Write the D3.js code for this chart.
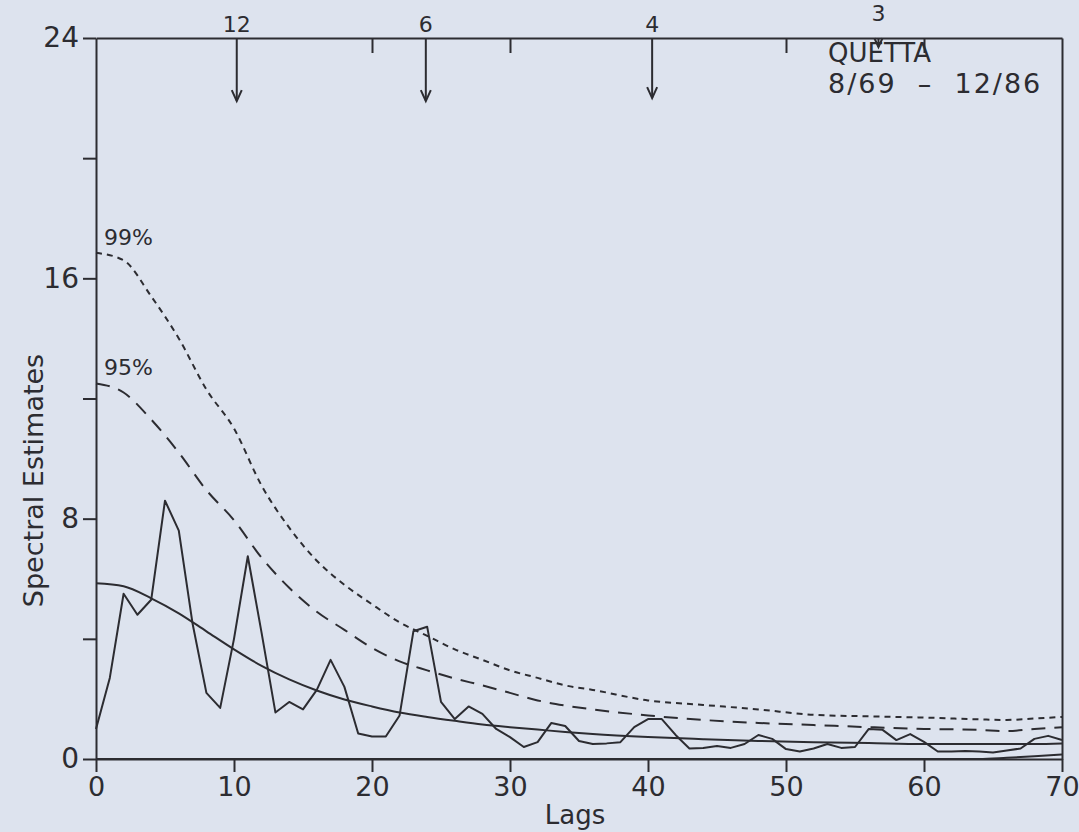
<!DOCTYPE html>
<html>
<head>
<meta charset="utf-8">
<script src="https://cdn.jsdelivr.net/npm/d3@7"></script>
<style>
body { margin: 0; background: #dde3ee; }
svg { display: block; }
text { font-family: "DejaVu Sans", sans-serif; fill: #2c2c31; }
</style>
</head>
<body>
<script>
// spectral estimates, one per lag 0..70
let lags = d3.range(0, 71)
let spectrum = [1.0, 2.7, 5.5, 4.8, 5.3, 8.6, 7.6, 4.5, 2.2, 1.7,
    4.0, 6.75, 4.2, 1.55, 1.9, 1.65, 2.3, 3.3, 2.4, 0.85,
    0.75, 0.75, 1.45, 4.25, 4.4, 1.9, 1.33, 1.75, 1.5, 1.0,
    0.73, 0.4, 0.56, 1.2, 1.1, 0.6, 0.5, 0.52, 0.56, 1.06,
    1.33, 1.33, 0.8, 0.35, 0.37, 0.43, 0.37, 0.5, 0.8, 0.67,
    0.33, 0.25, 0.35, 0.5, 0.37, 0.4, 1.0, 0.97, 0.63, 0.83,
    0.57, 0.25, 0.25, 0.27, 0.25, 0.22, 0.28, 0.35, 0.67, 0.77,
    0.63]

// red noise continuum and its confidence limits
let curveLags = [0, 2, 4, 6, 8, 10, 12, 14, 16, 18, 20, 22, 24, 26, 28, 30, 32, 34, 36, 40, 44, 48, 52, 56, 60, 64, 66, 68, 70]
let rednoise = [5.85, 5.75, 5.35, 4.85, 4.25, 3.65, 3.1, 2.65, 2.28, 1.98, 1.75, 1.55, 1.4, 1.27, 1.15, 1.06, 0.98, 0.9, 0.83, 0.73, 0.66, 0.6, 0.56, 0.53, 0.5, 0.5, 0.5, 0.5, 0.52]
let conf95 = [12.5, 12.2, 11.3, 10.2, 8.95, 7.95, 6.7, 5.7, 4.9, 4.3, 3.7, 3.25, 2.95, 2.68, 2.45, 2.2, 1.95, 1.78, 1.65, 1.45, 1.3, 1.2, 1.13, 1.06, 1.0, 0.97, 0.93, 1.0, 1.06]
let conf99 = [16.85, 16.6, 15.4, 14.0, 12.3, 11.0, 9.1, 7.7, 6.6, 5.8, 5.15, 4.55, 4.1, 3.65, 3.3, 2.95, 2.7, 2.45, 2.3, 1.95, 1.8, 1.65, 1.47, 1.42, 1.38, 1.32, 1.3, 1.35, 1.4]
let lowerLags = [0, 64, 66, 68, 70]
let lower = [0, 0, 0.04, 0.09, 0.15]

// period markers (months) along the top
let periods = ["12", "6", "4", "3"]
let periodLags = [10.2, 23.9, 40.3, 56.7]
let periodTips = [21.9, 21.9, 22.0, 23.7]

let xTicks = [0, 10, 20, 30, 40, 50, 60, 70]
let yTicks = [0, 4, 8, 12, 16, 20, 24]
let yLabels = [0, 8, 16, 24]
let topTicks = [20, 30, 50, 60]

let w = 1079
let h = 832
let ink = "#2c2c31"

let x = d3.scaleLinear().domain([0, 70]).range([96, 1062])
let y = d3.scaleLinear().domain([0, 24]).range([759, 38])

let svg = d3.select("body")
    .append("svg")
    .attr("width", w)
    .attr("height", h)

let styleAxis = size => g => {
    g.selectAll("path, line").attr("stroke", ink).attr("stroke-width", 2)
    g.selectAll("text").attr("fill", ink).style("font-size", size + "px").style("font-family", "\"DejaVu Sans\", sans-serif")
}

// axes
svg.append("g")
    .attr("transform", `translate(0,${y(0)})`)
    .call(d3.axisBottom(x).tickValues(xTicks).tickSize(13).tickSizeOuter(0).tickPadding(5))
    .call(styleAxis(27))

svg.append("g")
    .attr("transform", `translate(${x(0)},0)`)
    .call(d3.axisLeft(y).tickValues(yTicks).tickSize(13).tickSizeOuter(0).tickPadding(4)
        .tickFormat(d => yLabels.includes(d) ? d : ""))
    .call(styleAxis(28))

svg.append("g")
    .attr("transform", `translate(0,${y(24)})`)
    .call(d3.axisTop(x).tickValues(topTicks).tickSize(-15).tickSizeOuter(0).tickFormat(""))
    .call(styleAxis(20))

svg.append("g")
    .attr("transform", `translate(${x(70)},0)`)
    .call(d3.axisRight(y).tickValues([]).tickSizeOuter(0))
    .call(styleAxis(20))

// curves
let smooth = d3.line().x(d => x(d[0])).y(d => y(d[1])).curve(d3.curveMonotoneX)
let straight = d3.line().x(d => x(d[0])).y(d => y(d[1]))

let series = [
    {lags: curveLags, vals: conf99, dash: "6,5", line: smooth},
    {lags: curveLags, vals: conf95, dash: "14,9", line: smooth},
    {lags: curveLags, vals: rednoise, dash: null, line: smooth},
    {lags: lowerLags, vals: lower, dash: null, line: smooth},
    {lags: lags, vals: spectrum, dash: null, line: straight}
]

svg.selectAll("path.series")
    .data(series)
    .enter()
    .append("path")
    .attr("class", "series")
    .attr("d", s => s.line(s.lags.map((l, i) => [l, s.vals[i]])))
    .attr("fill", "none")
    .attr("stroke", ink)
    .attr("stroke-width", 2)
    .attr("stroke-linejoin", "round")
    .attr("stroke-dasharray", s => s.dash)

// confidence labels
svg.append("text").attr("x", x(0) + 8).attr("y", y(conf99[0]) - 8)
    .style("font-size", "22px").text("99%")
svg.append("text").attr("x", x(0) + 8).attr("y", y(conf95[0]) - 8)
    .style("font-size", "22px").text("95%")

// period arrows
let arrows = svg.selectAll("g.arrow")
    .data(periods)
    .enter()
    .append("g")
    .attr("class", "arrow")

arrows.append("line")
    .attr("x1", (d, i) => x(periodLags[i]))
    .attr("x2", (d, i) => x(periodLags[i]))
    .attr("y1", y(24))
    .attr("y2", (d, i) => y(periodTips[i]))
    .attr("stroke", ink)
    .attr("stroke-width", 2)

arrows.append("path")
    .attr("d", (d, i) => {
        let px = x(periodLags[i]), py = y(periodTips[i])
        let s = i == 3 ? 4 : 5
        return `M${px - s},${py - s * 2.2}L${px},${py}L${px + s},${py - s * 2.2}`
    })
    .attr("fill", "none")
    .attr("stroke", ink)
    .attr("stroke-width", 2)

arrows.append("text")
    .attr("x", (d, i) => x(periodLags[i]))
    .attr("y", (d, i) => i == 3 ? 21 : 32)
    .attr("text-anchor", "middle")
    .style("font-size", "22px")
    .text(d => d)

// station and period
svg.append("text").attr("x", 828).attr("y", 62).style("font-size", "26px").text("QUETTA")
svg.append("text").attr("x", 828).attr("y", 93).style("font-size", "27px")
    .style("white-space", "pre").attr("letter-spacing", 2).text("8/69  –  12/86")

// axis titles
svg.append("text")
    .attr("transform", `translate(43,${(y(0) + y(24)) / 2 + 82}) rotate(-90)`)
    .attr("text-anchor", "middle")
    .style("font-size", "27px")
    .text("Spectral Estimates")

svg.append("text")
    .attr("x", 575)
    .attr("y", 824)
    .attr("text-anchor", "middle")
    .style("font-size", "26px")
    .text("Lags")
</script>
</body>
</html>
